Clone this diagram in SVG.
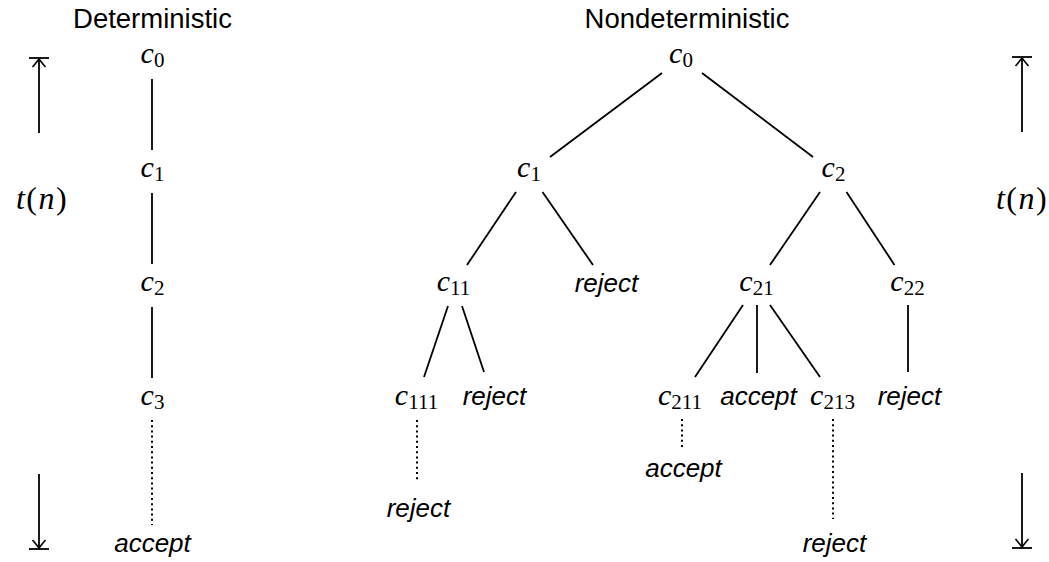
<svg xmlns="http://www.w3.org/2000/svg" width="1049" height="562" viewBox="0 0 1049 562">
<defs>
<style>
.sans{font-family:"Liberation Sans",Arial,sans-serif;font-size:26px;fill:#000}
.title{font-size:27.5px}
.it{font-style:italic}
.m{font-family:"Liberation Serif","Times New Roman",serif;font-size:30px;font-style:italic;fill:#000}
.sub{font-style:normal;font-size:21px}
.rm{font-style:normal}
.tn{font-size:32px;letter-spacing:1.5px}
.e{stroke:#000;stroke-width:1.8;fill:none}
.d{stroke:#000;stroke-width:2;fill:none;stroke-dasharray:2 3.2}
.bar{stroke:#000;stroke-width:1.8}
</style>
<marker id="to" markerUnits="userSpaceOnUse" viewBox="-10 -8 12 16" refX="0" refY="0" markerWidth="12" markerHeight="16" orient="auto" overflow="visible">
<path d="M -8 -6.5 C -4 -3 -1.2 -1 0 0 C -1.2 1 -4 3 -8 6.5" stroke="#000" stroke-width="1.6" fill="none"/>
</marker>
</defs>
<rect width="1049" height="562" fill="#fff"/>

<g id="titles">
<text class="sans title" x="152.5" y="28" text-anchor="middle">Deterministic</text>
<text class="sans title" x="687" y="28" text-anchor="middle">Nondeterministic</text>
</g>

<g id="time-left">
<line class="bar" x1="29" y1="58" x2="49" y2="58"/>
<line class="e" x1="39" y1="133" x2="39" y2="59" marker-end="url(#to)"/>
<line class="e" x1="39" y1="474" x2="39" y2="548" marker-end="url(#to)"/>
<line class="bar" x1="29" y1="549" x2="49" y2="549"/>
<text class="m tn" x="42" y="209" text-anchor="middle">t<tspan class="rm">(</tspan>n<tspan class="rm">)</tspan></text>
</g>

<g id="time-right">
<line class="bar" x1="1012" y1="57" x2="1032" y2="57"/>
<line class="e" x1="1022" y1="132" x2="1022" y2="58" marker-end="url(#to)"/>
<line class="e" x1="1022" y1="473" x2="1022" y2="547" marker-end="url(#to)"/>
<line class="bar" x1="1012" y1="548" x2="1032" y2="548"/>
<text class="m tn" x="1022" y="209" text-anchor="middle">t<tspan class="rm">(</tspan>n<tspan class="rm">)</tspan></text>
</g>

<g id="connectors">
<line class="e" x1="152" y1="79" x2="152" y2="150"/>
<line class="e" x1="152" y1="193" x2="152" y2="264"/>
<line class="e" x1="152" y1="307" x2="152" y2="378"/>
<line class="d" x1="152" y1="420" x2="152" y2="525"/>

<line class="e" x1="662" y1="73" x2="550" y2="157"/>
<line class="e" x1="702" y1="73" x2="813" y2="157"/>
<line class="e" x1="516" y1="192" x2="467" y2="265"/>
<line class="e" x1="542.5" y1="192" x2="593" y2="265"/>
<line class="e" x1="820" y1="192" x2="770" y2="265"/>
<line class="e" x1="846.5" y1="192" x2="894.5" y2="265"/>
<line class="e" x1="448" y1="306" x2="424" y2="377"/>
<line class="e" x1="462" y1="306" x2="484" y2="372"/>
<line class="e" x1="743" y1="305" x2="695" y2="377"/>
<line class="e" x1="757" y1="305" x2="757" y2="373"/>
<line class="e" x1="770" y1="305" x2="820" y2="377"/>
<line class="e" x1="908" y1="305" x2="908" y2="372"/>
<line class="d" x1="417" y1="420" x2="417" y2="481"/>
<line class="d" x1="682" y1="419" x2="682" y2="449"/>
<line class="d" x1="833" y1="419" x2="833" y2="519"/>
</g>

<g id="det-c0"><text class="m" x="152.5" y="63" text-anchor="middle">c<tspan class="sub" dy="4">0</tspan></text></g>
<g id="det-c1"><text class="m" x="152.5" y="177" text-anchor="middle">c<tspan class="sub" dy="4">1</tspan></text></g>
<g id="det-c2"><text class="m" x="152.5" y="291" text-anchor="middle">c<tspan class="sub" dy="4">2</tspan></text></g>
<g id="det-c3"><text class="m" x="152.5" y="405" text-anchor="middle">c<tspan class="sub" dy="4">3</tspan></text></g>
<g id="det-accept"><text class="sans it" x="152.5" y="552" text-anchor="middle">accept</text></g>

<g id="n-c0"><text class="m" x="681" y="63" text-anchor="middle">c<tspan class="sub" dy="4">0</tspan></text></g>
<g id="n-c1"><text class="m" x="529" y="177" text-anchor="middle">c<tspan class="sub" dy="4">1</tspan></text></g>
<g id="n-c2"><text class="m" x="833.5" y="177" text-anchor="middle">c<tspan class="sub" dy="4">2</tspan></text></g>
<g id="n-c11"><text class="m" x="453.5" y="291" text-anchor="middle">c<tspan class="sub" dy="4">11</tspan></text></g>
<g id="n-c12"><text class="sans it" x="606.5" y="292" text-anchor="middle">reject</text></g>
<g id="n-c21"><text class="m" x="756.5" y="291" text-anchor="middle">c<tspan class="sub" dy="4">21</tspan></text></g>
<g id="n-c22"><text class="m" x="907.5" y="291" text-anchor="middle">c<tspan class="sub" dy="4">22</tspan></text></g>
<g id="n-c111"><text class="m" x="416.5" y="405" text-anchor="middle">c<tspan class="sub" dy="4">111</tspan></text></g>
<g id="n-c112"><text class="sans it" x="494.5" y="405" text-anchor="middle">reject</text></g>
<g id="n-c211"><text class="m" x="680" y="405" text-anchor="middle">c<tspan class="sub" dy="4">211</tspan></text></g>
<g id="n-c212"><text class="sans it" x="758.5" y="405" text-anchor="middle">accept</text></g>
<g id="n-c213"><text class="m" x="832.5" y="405" text-anchor="middle">c<tspan class="sub" dy="4">213</tspan></text></g>
<g id="n-c221"><text class="sans it" x="909.5" y="405" text-anchor="middle">reject</text></g>
<g id="n-c111-end"><text class="sans it" x="418.5" y="517" text-anchor="middle">reject</text></g>
<g id="n-c211-end"><text class="sans it" x="683.5" y="477" text-anchor="middle">accept</text></g>
<g id="n-c213-end"><text class="sans it" x="834.5" y="552" text-anchor="middle">reject</text></g>
</svg>
